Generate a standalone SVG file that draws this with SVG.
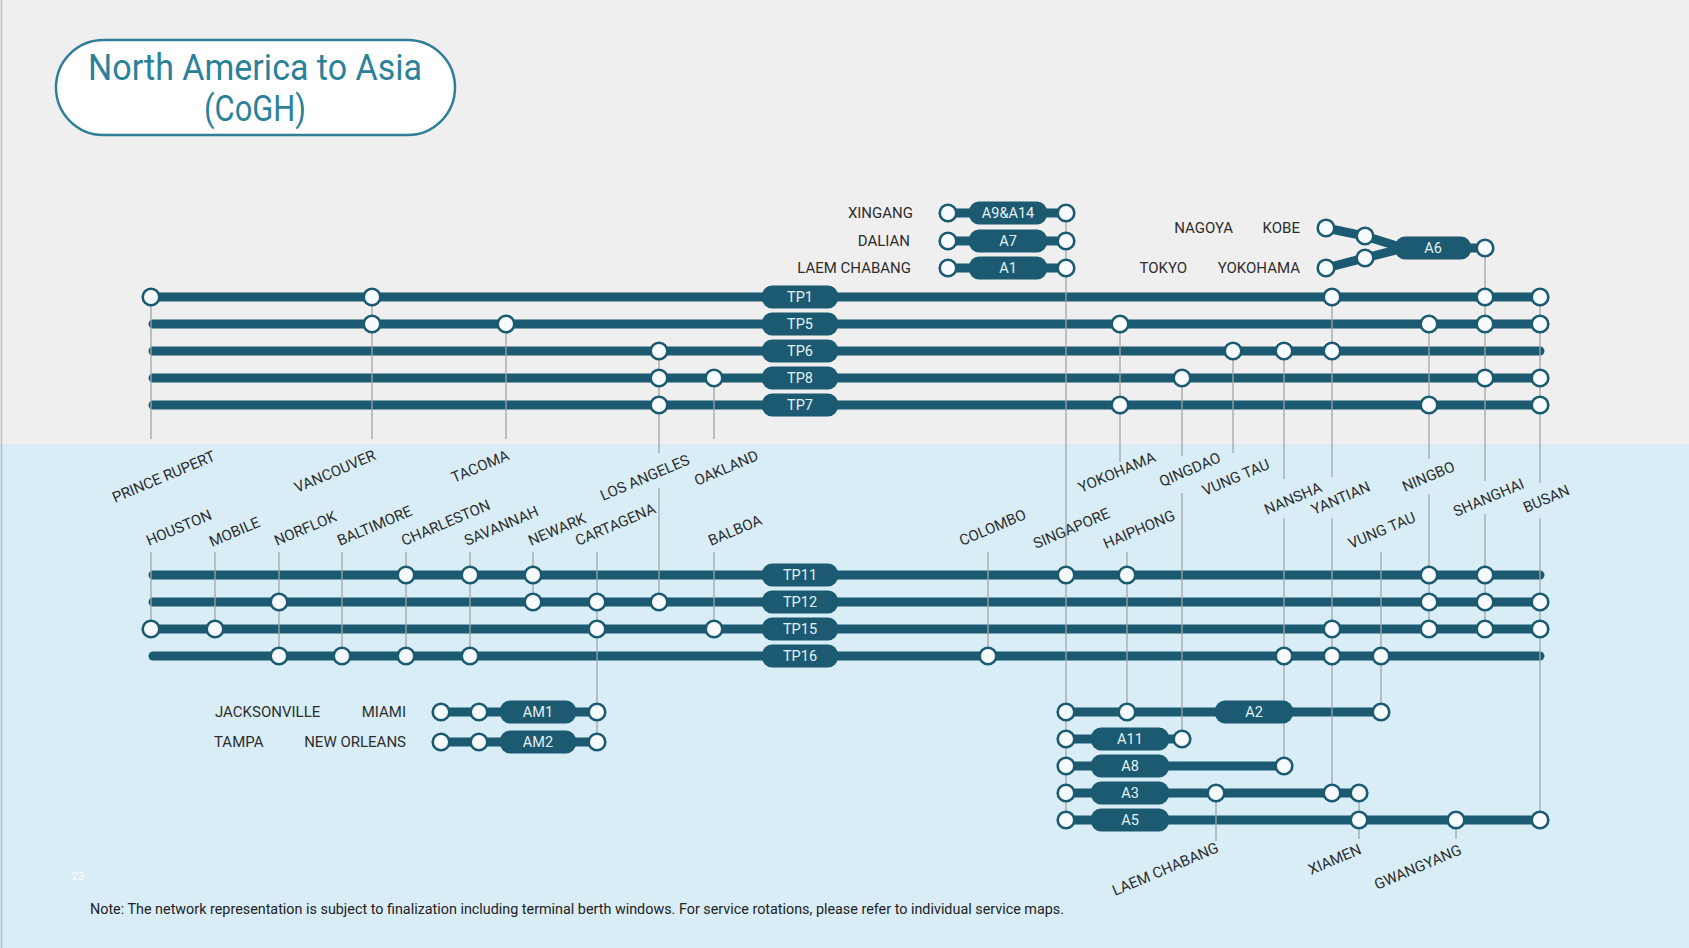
<svg xmlns="http://www.w3.org/2000/svg" width="1689" height="948" viewBox="0 0 1689 948">
<style>
.bar{stroke:#1b5a70;stroke-width:9;stroke-linecap:round;fill:none}
.pill{fill:#1b5a70}
.pt{fill:#e3f1f6;font-family:Roboto,"Liberation Sans",sans-serif;font-size:14.5px;text-anchor:middle}
.st{fill:#f7fbfd;stroke:#1b5a70;stroke-width:2.6}
.lbl{fill:#2d2d2d;font-family:Roboto,"Liberation Sans",sans-serif;font-size:15px}
.end{text-anchor:end}
.v{stroke:#9ea6ab;stroke-width:1.3;fill:none}
</style>
<rect x="0" y="0" width="1689" height="444" fill="#efefef"/>
<rect x="0" y="444" width="1689" height="504" fill="#d9edf7"/>
<line x1="1.5" y1="0" x2="1.5" y2="948" stroke="#bdbdbd" stroke-width="1.5"/>

<g id="title">
<rect x="56" y="40" width="399" height="95" rx="47.5" fill="#ffffff" stroke="#2e7f96" stroke-width="2.5"/>
<text x="255" y="80" fill="#2b8199" font-family="Roboto,'Liberation Sans',sans-serif" font-size="36" text-anchor="middle" textLength="334" lengthAdjust="spacingAndGlyphs">North America to Asia</text>
<text x="255" y="121" fill="#2b8199" font-family="Roboto,'Liberation Sans',sans-serif" font-size="36" text-anchor="middle" textLength="102" lengthAdjust="spacingAndGlyphs">(CoGH)</text>
</g>

<g transform="translate(0,1)">
<!-- horizontal service bars -->
<g id="bars">
<line class="bar" x1="151" y1="296" x2="1540" y2="296"/>
<line class="bar" x1="153" y1="323" x2="1540" y2="323"/>
<line class="bar" x1="153" y1="350" x2="1540" y2="350"/>
<line class="bar" x1="153" y1="377" x2="1540" y2="377"/>
<line class="bar" x1="153" y1="404" x2="1540" y2="404"/>
<line class="bar" x1="153" y1="574" x2="1540" y2="574"/>
<line class="bar" x1="153" y1="601" x2="1540" y2="601"/>
<line class="bar" x1="151" y1="628" x2="1540" y2="628"/>
<line class="bar" x1="153" y1="655" x2="1540" y2="655"/>
<line class="bar" x1="948" y1="212" x2="1066" y2="212"/>
<line class="bar" x1="948" y1="240" x2="1066" y2="240"/>
<line class="bar" x1="948" y1="267" x2="1066" y2="267"/>
<polyline class="bar" points="1326,227 1365,235 1400,246"/>
<polyline class="bar" points="1326,267 1365,257 1400,248"/>
<line class="bar" x1="1400" y1="247" x2="1485" y2="247"/>
<line class="bar" x1="441" y1="711" x2="597" y2="711"/>
<line class="bar" x1="441" y1="741" x2="597" y2="741"/>
<line class="bar" x1="1066" y1="711" x2="1381" y2="711"/>
<line class="bar" x1="1066" y1="738" x2="1182" y2="738"/>
<line class="bar" x1="1066" y1="765" x2="1284" y2="765"/>
<line class="bar" x1="1066" y1="792" x2="1359" y2="792"/>
<line class="bar" x1="1066" y1="819" x2="1540" y2="819"/>
</g>

<!-- connectors: thin station drop lines -->
<g id="connectors" class="v">
<line x1="151" y1="296" x2="151" y2="438"/>
<line x1="372" y1="296" x2="372" y2="438"/>
<line x1="506" y1="323" x2="506" y2="438"/>
<line x1="659" y1="350" x2="659" y2="452"/>
<line x1="659" y1="487" x2="659" y2="601"/>
<line x1="714" y1="377" x2="714" y2="438"/>
<line x1="1066" y1="212" x2="1066" y2="819"/>
<line x1="1120" y1="323" x2="1120" y2="461"/>
<line x1="1182" y1="377" x2="1182" y2="455"/>
<line x1="1182" y1="492" x2="1182" y2="738"/>
<line x1="1233" y1="350" x2="1233" y2="452"/>
<line x1="1284" y1="350" x2="1284" y2="478"/>
<line x1="1284" y1="517" x2="1284" y2="765"/>
<line x1="1332" y1="296" x2="1332" y2="476"/>
<line x1="1332" y1="517" x2="1332" y2="792"/>
<line x1="1429" y1="323" x2="1429" y2="458"/>
<line x1="1429" y1="493" x2="1429" y2="628"/>
<line x1="1485" y1="247" x2="1485" y2="480"/>
<line x1="1485" y1="513" x2="1485" y2="628"/>
<line x1="1540" y1="296" x2="1540" y2="482"/>
<line x1="1540" y1="517" x2="1540" y2="819"/>
<line x1="151" y1="551" x2="151" y2="628"/>
<line x1="215" y1="551" x2="215" y2="628"/>
<line x1="279" y1="551" x2="279" y2="655"/>
<line x1="342" y1="551" x2="342" y2="655"/>
<line x1="406" y1="551" x2="406" y2="655"/>
<line x1="470" y1="551" x2="470" y2="655"/>
<line x1="533" y1="551" x2="533" y2="601"/>
<line x1="597" y1="551" x2="597" y2="741"/>
<line x1="714" y1="551" x2="714" y2="628"/>
<line x1="988" y1="551" x2="988" y2="655"/>
<line x1="1127" y1="551" x2="1127" y2="711"/>
<line x1="1381" y1="551" x2="1381" y2="711"/>
<line x1="1216" y1="792" x2="1216" y2="840"/>
<line x1="1359" y1="792" x2="1359" y2="838"/>
<line x1="1456" y1="819" x2="1456" y2="838"/>
</g>

<!-- service pills and stops -->
<g id="svc-TP1"><rect class="pill" x="762" y="284.5" width="76" height="23" rx="10"/><text class="pt" x="800" y="301">TP1</text>
<circle class="st" cx="151" cy="296" r="8.3"/><circle class="st" cx="372" cy="296" r="8.3"/><circle class="st" cx="1332" cy="296" r="8.3"/><circle class="st" cx="1485" cy="296" r="8.3"/><circle class="st" cx="1540" cy="296" r="8.3"/></g>
<g id="svc-TP5"><rect class="pill" x="762" y="311.5" width="76" height="23" rx="10"/><text class="pt" x="800" y="328">TP5</text>
<circle class="st" cx="372" cy="323" r="8.3"/><circle class="st" cx="506" cy="323" r="8.3"/><circle class="st" cx="1120" cy="323" r="8.3"/><circle class="st" cx="1429" cy="323" r="8.3"/><circle class="st" cx="1485" cy="323" r="8.3"/><circle class="st" cx="1540" cy="323" r="8.3"/></g>
<g id="svc-TP6"><rect class="pill" x="762" y="338.5" width="76" height="23" rx="10"/><text class="pt" x="800" y="355">TP6</text>
<circle class="st" cx="659" cy="350" r="8.3"/><circle class="st" cx="1233" cy="350" r="8.3"/><circle class="st" cx="1284" cy="350" r="8.3"/><circle class="st" cx="1332" cy="350" r="8.3"/></g>
<g id="svc-TP8"><rect class="pill" x="762" y="365.5" width="76" height="23" rx="10"/><text class="pt" x="800" y="382">TP8</text>
<circle class="st" cx="659" cy="377" r="8.3"/><circle class="st" cx="714" cy="377" r="8.3"/><circle class="st" cx="1182" cy="377" r="8.3"/><circle class="st" cx="1485" cy="377" r="8.3"/><circle class="st" cx="1540" cy="377" r="8.3"/></g>
<g id="svc-TP7"><rect class="pill" x="762" y="392.5" width="76" height="23" rx="10"/><text class="pt" x="800" y="409">TP7</text>
<circle class="st" cx="659" cy="404" r="8.3"/><circle class="st" cx="1120" cy="404" r="8.3"/><circle class="st" cx="1429" cy="404" r="8.3"/><circle class="st" cx="1540" cy="404" r="8.3"/></g>
<g id="svc-TP11"><rect class="pill" x="762" y="562.5" width="76" height="23" rx="10"/><text class="pt" x="800" y="579">TP11</text>
<circle class="st" cx="406" cy="574" r="8.3"/><circle class="st" cx="470" cy="574" r="8.3"/><circle class="st" cx="533" cy="574" r="8.3"/><circle class="st" cx="1066" cy="574" r="8.3"/><circle class="st" cx="1127" cy="574" r="8.3"/><circle class="st" cx="1429" cy="574" r="8.3"/><circle class="st" cx="1485" cy="574" r="8.3"/></g>
<g id="svc-TP12"><rect class="pill" x="762" y="589.5" width="76" height="23" rx="10"/><text class="pt" x="800" y="606">TP12</text>
<circle class="st" cx="279" cy="601" r="8.3"/><circle class="st" cx="533" cy="601" r="8.3"/><circle class="st" cx="597" cy="601" r="8.3"/><circle class="st" cx="659" cy="601" r="8.3"/><circle class="st" cx="1429" cy="601" r="8.3"/><circle class="st" cx="1485" cy="601" r="8.3"/><circle class="st" cx="1540" cy="601" r="8.3"/></g>
<g id="svc-TP15"><rect class="pill" x="762" y="616.5" width="76" height="23" rx="10"/><text class="pt" x="800" y="633">TP15</text>
<circle class="st" cx="151" cy="628" r="8.3"/><circle class="st" cx="215" cy="628" r="8.3"/><circle class="st" cx="597" cy="628" r="8.3"/><circle class="st" cx="714" cy="628" r="8.3"/><circle class="st" cx="1332" cy="628" r="8.3"/><circle class="st" cx="1429" cy="628" r="8.3"/><circle class="st" cx="1485" cy="628" r="8.3"/><circle class="st" cx="1540" cy="628" r="8.3"/></g>
<g id="svc-TP16"><rect class="pill" x="762" y="643.5" width="76" height="23" rx="10"/><text class="pt" x="800" y="660">TP16</text>
<circle class="st" cx="279" cy="655" r="8.3"/><circle class="st" cx="342" cy="655" r="8.3"/><circle class="st" cx="406" cy="655" r="8.3"/><circle class="st" cx="470" cy="655" r="8.3"/><circle class="st" cx="988" cy="655" r="8.3"/><circle class="st" cx="1284" cy="655" r="8.3"/><circle class="st" cx="1332" cy="655" r="8.3"/><circle class="st" cx="1381" cy="655" r="8.3"/></g>

<g id="svc-A9A14"><rect class="pill" x="969" y="200.5" width="78" height="23" rx="10"/><text class="pt" x="1008" y="217">A9&amp;A14</text>
<circle class="st" cx="948" cy="212" r="8.3"/><circle class="st" cx="1066" cy="212" r="8.3"/></g>
<g id="svc-A7"><rect class="pill" x="969" y="228.5" width="78" height="23" rx="10"/><text class="pt" x="1008" y="245">A7</text>
<circle class="st" cx="948" cy="240" r="8.3"/><circle class="st" cx="1066" cy="240" r="8.3"/></g>
<g id="svc-A1"><rect class="pill" x="969" y="255.5" width="78" height="23" rx="10"/><text class="pt" x="1008" y="272">A1</text>
<circle class="st" cx="948" cy="267" r="8.3"/><circle class="st" cx="1066" cy="267" r="8.3"/></g>
<g id="svc-A6"><rect class="pill" x="1395" y="235.5" width="76" height="23" rx="10"/><text class="pt" x="1433" y="252">A6</text>
<circle class="st" cx="1326" cy="227" r="8.3"/><circle class="st" cx="1365" cy="235" r="8.3"/><circle class="st" cx="1326" cy="267" r="8.3"/><circle class="st" cx="1365" cy="257" r="8.3"/><circle class="st" cx="1485" cy="247" r="8.3"/></g>

<g id="svc-AM1"><rect class="pill" x="500" y="699.5" width="76" height="23" rx="10"/><text class="pt" x="538" y="716">AM1</text>
<circle class="st" cx="441" cy="711" r="8.3"/><circle class="st" cx="479" cy="711" r="8.3"/><circle class="st" cx="597" cy="711" r="8.3"/></g>
<g id="svc-AM2"><rect class="pill" x="500" y="729.5" width="76" height="23" rx="10"/><text class="pt" x="538" y="746">AM2</text>
<circle class="st" cx="441" cy="741" r="8.3"/><circle class="st" cx="479" cy="741" r="8.3"/><circle class="st" cx="597" cy="741" r="8.3"/></g>

<g id="svc-A2"><rect class="pill" x="1215" y="699.5" width="78" height="23" rx="10"/><text class="pt" x="1254" y="716">A2</text>
<circle class="st" cx="1066" cy="711" r="8.3"/><circle class="st" cx="1127" cy="711" r="8.3"/><circle class="st" cx="1381" cy="711" r="8.3"/></g>
<g id="svc-A11"><rect class="pill" x="1091" y="726.5" width="78" height="23" rx="10"/><text class="pt" x="1130" y="743">A11</text>
<circle class="st" cx="1066" cy="738" r="8.3"/><circle class="st" cx="1182" cy="738" r="8.3"/></g>
<g id="svc-A8"><rect class="pill" x="1091" y="753.5" width="78" height="23" rx="10"/><text class="pt" x="1130" y="770">A8</text>
<circle class="st" cx="1066" cy="765" r="8.3"/><circle class="st" cx="1284" cy="765" r="8.3"/></g>
<g id="svc-A3"><rect class="pill" x="1091" y="780.5" width="78" height="23" rx="10"/><text class="pt" x="1130" y="797">A3</text>
<circle class="st" cx="1066" cy="792" r="8.3"/><circle class="st" cx="1216" cy="792" r="8.3"/><circle class="st" cx="1332" cy="792" r="8.3"/><circle class="st" cx="1359" cy="792" r="8.3"/></g>
<g id="svc-A5"><rect class="pill" x="1091" y="807.5" width="78" height="23" rx="10"/><text class="pt" x="1130" y="824">A5</text>
<circle class="st" cx="1066" cy="819" r="8.3"/><circle class="st" cx="1359" cy="819" r="8.3"/><circle class="st" cx="1456" cy="819" r="8.3"/><circle class="st" cx="1540" cy="819" r="8.3"/></g>

<!-- station labels -->
<g id="labels-fixed">
<text class="lbl end" x="913" y="217">XINGANG</text>
<text class="lbl end" x="910" y="245">DALIAN</text>
<text class="lbl end" x="911" y="272">LAEM CHABANG</text>
<text class="lbl end" x="1233" y="232">NAGOYA</text>
<text class="lbl end" x="1300" y="232">KOBE</text>
<text class="lbl end" x="1187" y="272">TOKYO</text>
<text class="lbl end" x="1300" y="272">YOKOHAMA</text>
<text class="lbl" x="215" y="716">JACKSONVILLE</text>
<text class="lbl end" x="406" y="716">MIAMI</text>
<text class="lbl" x="214" y="746">TAMPA</text>
<text class="lbl end" x="406" y="746">NEW ORLEANS</text>
</g>
<g id="station-prince-rupert"><text class="lbl" transform="translate(115,502) rotate(-23)">PRINCE RUPERT</text></g>
<g id="station-vancouver"><text class="lbl" transform="translate(297,492) rotate(-23)">VANCOUVER</text></g>
<g id="station-tacoma"><text class="lbl" transform="translate(454,482) rotate(-23)">TACOMA</text></g>
<g id="station-los-angeles"><text class="lbl" transform="translate(603,500) rotate(-23)">LOS ANGELES</text></g>
<g id="station-oakland"><text class="lbl" transform="translate(697,485) rotate(-23)">OAKLAND</text></g>
<g id="station-yokohama"><text class="lbl" transform="translate(1081,492) rotate(-23)">YOKOHAMA</text></g>
<g id="station-qingdao"><text class="lbl" transform="translate(1162,486) rotate(-23)">QINGDAO</text></g>
<g id="station-vung-tau-1"><text class="lbl" transform="translate(1205,495) rotate(-23)">VUNG TAU</text></g>
<g id="station-nansha"><text class="lbl" transform="translate(1267,514) rotate(-23)">NANSHA</text></g>
<g id="station-yantian"><text class="lbl" transform="translate(1314,514) rotate(-23)">YANTIAN</text></g>
<g id="station-ningbo"><text class="lbl" transform="translate(1405,491) rotate(-23)">NINGBO</text></g>
<g id="station-shanghai"><text class="lbl" transform="translate(1456,516) rotate(-23)">SHANGHAI</text></g>
<g id="station-busan"><text class="lbl" transform="translate(1526,512) rotate(-23)">BUSAN</text></g>
<g id="station-houston"><text class="lbl" transform="translate(149,545) rotate(-23)">HOUSTON</text></g>
<g id="station-mobile"><text class="lbl" transform="translate(212,546) rotate(-23)">MOBILE</text></g>
<g id="station-norflok"><text class="lbl" transform="translate(277,545) rotate(-23)">NORFLOK</text></g>
<g id="station-baltimore"><text class="lbl" transform="translate(340,545) rotate(-23)">BALTIMORE</text></g>
<g id="station-charleston"><text class="lbl" transform="translate(404,545) rotate(-23)">CHARLESTON</text></g>
<g id="station-savannah"><text class="lbl" transform="translate(467,545) rotate(-23)">SAVANNAH</text></g>
<g id="station-newark"><text class="lbl" transform="translate(531,545) rotate(-23)">NEWARK</text></g>
<g id="station-cartagena"><text class="lbl" transform="translate(578,545) rotate(-23)">CARTAGENA</text></g>
<g id="station-balboa"><text class="lbl" transform="translate(711,545) rotate(-23)">BALBOA</text></g>
<g id="station-colombo"><text class="lbl" transform="translate(962,545) rotate(-23)">COLOMBO</text></g>
<g id="station-singapore"><text class="lbl" transform="translate(1036,548) rotate(-23)">SINGAPORE</text></g>
<g id="station-haiphong"><text class="lbl" transform="translate(1106,548) rotate(-23)">HAIPHONG</text></g>
<g id="station-vung-tau-2"><text class="lbl" transform="translate(1351,548) rotate(-23)">VUNG TAU</text></g>
<g id="station-laem-chabang"><text class="lbl" transform="translate(1115,895) rotate(-23)">LAEM CHABANG</text></g>
<g id="station-xiamen"><text class="lbl" transform="translate(1311,874) rotate(-23)">XIAMEN</text></g>
<g id="station-gwangyang"><text class="lbl" transform="translate(1377,889) rotate(-23)">GWANGYANG</text></g>
</g>

<text x="78" y="880" fill="#ffffff" font-family="Roboto,'Liberation Sans',sans-serif" font-size="11" text-anchor="middle">23</text>
<text x="90" y="914" fill="#222222" font-family="Roboto,'Liberation Sans',sans-serif" font-size="14" textLength="974" lengthAdjust="spacingAndGlyphs">Note: The network representation is subject to finalization including terminal berth windows. For service rotations, please refer to individual service maps.</text>
</svg>
